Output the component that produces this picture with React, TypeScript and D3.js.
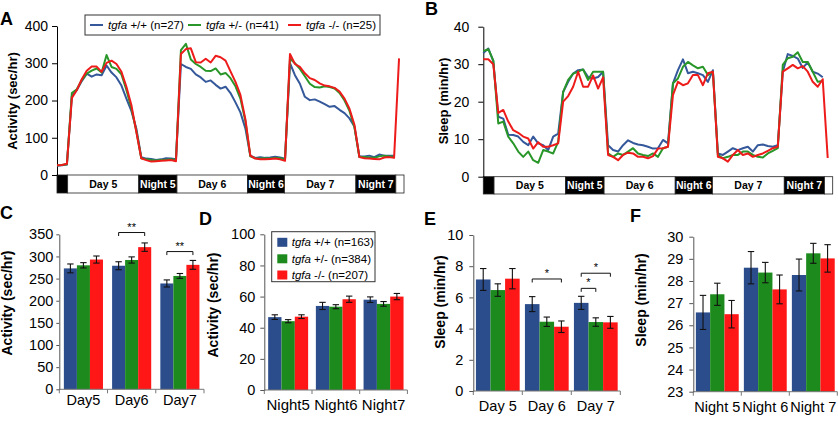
import * as d3 from "d3";
import React, { useEffect, useRef } from "react";

const W = 838;
const H = 424;
const FONT = "'Liberation Sans', Arial, Helvetica, sans-serif";

const GENOTYPES = ["+/+", "+/-", "-/-"];
const LINE_COLORS = ["#34589a", "#289628", "#ee1b1b"];
const BAR_COLORS = ["#2c4d8c", "#1c8a1c", "#ff1616"];

// ---- time course, one value per bin (bins 0..69) ----
const BINS = 70;

const ACT_WT = [
  25, 26, 28,
  212, 228, 252, 272, 264, 270, 268, 294, 275, 262, 240, 205, 172, 125, 48,
  44, 43, 40, 42, 45, 44, 42,
  298, 290, 285, 270, 262, 250, 254, 242, 232, 237, 220, 195, 168, 125, 52,
  46, 48, 46, 47, 49, 47, 44,
  300, 268, 245, 210, 201, 203, 197, 190, 183, 185, 175, 166, 152, 130, 50,
  50, 52, 48, 55, 52, 52, 52,
];
const ACT_HET = [
  26, 27, 29,
  220, 230, 255, 272, 280, 286, 275, 322, 290, 285, 270, 228, 180, 118, 45,
  42, 40, 39, 40, 41, 42, 40,
  335, 352, 310, 298, 290, 280, 279, 286, 270, 274, 260, 238, 205, 145, 50,
  45, 44, 45, 44, 46, 45, 42,
  312, 300, 285, 265, 245, 236, 235, 238, 236, 232, 220, 200, 172, 128, 48,
  48, 47, 46, 50, 52, 50, 50,
];
const ACT_MUT = [
  26, 27, 30,
  207, 228, 257, 280, 291, 291, 277, 301, 307, 298, 277, 237, 188, 116, 45,
  40, 36, 37, 38, 39, 40, 37,
  325, 338, 340, 303, 302, 312, 302, 320, 316, 307, 278, 250, 215, 150, 52,
  44, 42, 42, 43, 44, 42, 38,
  325, 298, 290, 273, 260, 255, 246, 240, 238, 234, 224, 205, 178, 135, 48,
  45, 44, 43, 42, 47, 48, 46, 313,
];

const SLEEP_WT = [
  33, 34.2, 30.8,
  16, 15.5, 11.2, 11.1, 10.7, 9.3, 8.4, 10.7, 8.9, 8.4, 7.1, 10.7, 11.5,
  22.6, 25.3, 27.5, 28.4, 28.6, 26.6, 26.2, 26.6, 28,
  8.4, 7.1, 6.7, 8.4, 9.7, 9, 8.6, 8.4, 8, 7.5, 7.6, 9.8, 8.9,
  24.9, 28.4, 31.3, 27.6, 28, 27.6, 27.1, 25.3, 28.4,
  6.2, 5.8, 6.7, 7.6, 7.1, 7.6, 8, 6.7, 8.4, 8.6, 8.2, 8, 8.4,
  28, 32.7, 32.2, 31.5, 29, 30.5, 28, 27.5, 26.5,
];
const SLEEP_HET = [
  33.5, 34, 31,
  14.2, 14.7, 10.7, 8.9, 6.7, 5.3, 6.7, 4.4, 3.7, 7.1, 6.7, 6.2, 9.3,
  22.6, 25.8, 27.5, 28, 28.6, 25.8, 28, 28, 28,
  6.2, 5.3, 6.2, 5.8, 6.7, 7.6, 6.2, 5.8, 5.5, 6.2, 5.3, 7.6, 8,
  24.9, 26.2, 29.3, 30.6, 29.7, 28.9, 29.3, 27.1, 28,
  5.8, 4.9, 5.3, 5.8, 5.8, 6.7, 6.7, 5.8, 5.3, 5.1, 6.2, 6.9, 7.6,
  29.8, 31.6, 32, 33.2, 30.6, 30.6, 28, 25.3, 25.5,
];
const SLEEP_MUT = [
  31.3, 31.3, 30,
  17, 17.8, 14.7, 12.4, 11.7, 10.7, 10.2, 7.5, 9.2, 8, 8, 8.4, 8.9,
  20, 21.5, 24, 28, 24, 24, 27, 23.5, 26.5,
  5.8, 5.3, 4.4, 5.8, 6.4, 6.2, 5.3, 5.3, 4.9, 5.5, 7.5, 7.6, 8,
  21.8, 25.3, 24.4, 24.9, 27.1, 27.1, 24.4, 27.6, 28,
  5.3, 4.9, 4, 5.8, 7.1, 5.8, 6.2, 5.3, 5.8, 6.2, 6.9, 7.6, 8,
  28, 28.9, 29.8, 28.9, 29.5, 28, 25.3, 24, 26, 5,
];

// light/dark phases, in bins
const PHASE_LABELS = ["", "Day 5", "Night 5", "Day 6", "Night 6", "Day 7", "Night 7", ""];
const PHASE_EDGES = [0, 2.15, 16.5, 24.2, 38.45, 45.9, 60.3, 68.35, 70];
const PHASE_DARK = [true, false, true, false, true, false, true, false];

const TRACE_N_A = [27, 41, 25];

// ---- daily / nightly means ----
const DAY_CATS = ["Day5", "Day6", "Day7"];
const NIGHT_CATS = ["Night5", "Night6", "Night7"];
const DAY_CATS_SP = ["Day 5", "Day 6", "Day 7"];
const NIGHT_CATS_SP = ["Night 5", "Night 6", "Night 7"];

const ACT_DAY_MEAN = [
  [273, 279, 239],
  [280, 292, 256],
  [293, 321, 281],
];
const ACT_DAY_SEM = [
  [10, 9, 8],
  [6, 7, 5.5],
  [8, 9.5, 10],
];
const ACT_NIGHT_MEAN = [
  [46.8, 54, 58],
  [44.2, 53.5, 55.3],
  [47.1, 58.3, 60],
];
const ACT_NIGHT_SEM = [
  [1.5, 2.3, 1.8],
  [1, 1.3, 1.5],
  [1.2, 2, 2],
];
const SLEEP_DAY_MEAN = [
  [7.15, 5.57, 5.65],
  [6.47, 4.44, 4.42],
  [7.2, 4.12, 4.4],
];
const SLEEP_DAY_SEM = [
  [0.7, 0.48, 0.42],
  [0.4, 0.3, 0.27],
  [0.65, 0.37, 0.38],
];
const SLEEP_NIGHT_MEAN = [
  [26.58, 28.6, 28.27],
  [27.4, 28.38, 29.25],
  [26.5, 27.62, 29.02],
];
const SLEEP_NIGHT_SEM = [
  [0.77, 0.73, 0.72],
  [0.5, 0.46, 0.45],
  [0.62, 0.65, 0.62],
];
const BAR_N = [163, 384, 207];

// significance brackets: category, first genotype, second genotype, level (data units), label
const ACT_DAY_SIG = [
  { cat: 1, a: 0, b: 2, level: 354, label: "**" },
  { cat: 2, a: 0, b: 2, level: 311, label: "**" },
];
const SLEEP_DAY_SIG = [
  { cat: 1, a: 0, b: 2, level: 7.18, label: "*" },
  { cat: 2, a: 0, b: 2, level: 7.55, label: "*" },
  { cat: 2, a: 0, b: 1, level: 6.58, label: "*" },
];

type Sel = d3.Selection<SVGSVGElement, unknown, null, undefined>;

function panelLetter(svg: Sel, letter: string, x: number, y: number) {
  svg.append("text")
    .attr("x", x).attr("y", y)
    .attr("font-family", FONT).attr("font-weight", 700).attr("font-size", 18)
    .text(letter);
}

function yTitle(svg: Sel, text: string, cx: number, cy: number, size: number) {
  svg.append("text")
    .attr("transform", `translate(${cx + size * 0.36},${cy}) rotate(-90)`)
    .attr("text-anchor", "middle")
    .attr("font-family", FONT).attr("font-weight", 700).attr("font-size", size)
    .text(text);
}

function drawTrace(svg: Sel, c: {
  left: number; right: number; top: number; bottom: number; barH: number;
  yMax: number; ticks: number[]; series: number[][]; tickPad: number; tickFont: number;
  title: string; titleX: number; titleY: number;
}) {
  const x = d3.scaleLinear().domain([0, BINS]).range([c.left, c.right]);
  const y = d3.scaleLinear().domain([0, c.yMax]).range([c.bottom, c.top]);
  const g = svg.append("g");

  const phases = PHASE_LABELS.map((label, i) => ({
    label, start: PHASE_EDGES[i], end: PHASE_EDGES[i + 1], dark: PHASE_DARK[i],
  }));

  g.selectAll("rect.phase").data(phases).join("rect")
    .attr("class", "phase")
    .attr("x", d => x(d.start)).attr("width", d => x(d.end) - x(d.start))
    .attr("y", c.bottom).attr("height", c.barH)
    .attr("fill", d => (d.dark ? "#000" : "#fff"))
    .attr("stroke", "#222").attr("stroke-width", 0.8);

  g.selectAll("text.phase").data(phases.filter(d => d.label)).join("text")
    .attr("class", "phase")
    .attr("x", d => x((d.start + d.end) / 2))
    .attr("y", c.bottom + c.barH / 2 + 4)
    .attr("text-anchor", "middle")
    .attr("font-family", FONT).attr("font-weight", 700).attr("font-size", 10.5)
    .attr("fill", d => (d.dark ? "#fff" : "#000"))
    .text(d => d.label);

  const ax = g.append("g")
    .attr("transform", `translate(${c.left},0)`)
    .call(d3.axisLeft(y).tickValues(c.ticks).tickFormat(d3.format("d"))
      .tickSize(5).tickSizeOuter(0).tickPadding(c.tickPad));
  ax.attr("font-family", FONT).attr("font-size", c.tickFont);
  ax.select(".domain").attr("stroke", "#000");
  ax.selectAll(".tick line").attr("stroke", "#000");
  ax.selectAll(".tick text").attr("fill", "#000");

  const line = d3.line<number>().x((_, i) => x(i)).y(v => y(v));
  c.series.forEach((s, k) => {
    g.append("path")
      .attr("d", line(s))
      .attr("fill", "none")
      .attr("stroke", LINE_COLORS[k])
      .attr("stroke-width", 2)
      .attr("stroke-linejoin", "round");
  });

  yTitle(svg, c.title, c.titleX, c.titleY, 13);
}

function drawBars(svg: Sel, c: {
  x0: number; x1: number; top: number; bottom: number; domain: [number, number];
  ticks: number[]; cats: string[]; mean: number[][]; sem: number[][]; pad: number;
  tickSize: number; tickPad: number; catY: number; catFont: number;
  title: string; titleX: number; titleY: number;
  sig?: { cat: number; a: number; b: number; level: number; label: string }[];
}) {
  const outer = d3.scaleBand<string>().domain(c.cats).range([c.x0, c.x1]).padding(0);
  const inner = d3.scaleBand<string>().domain(GENOTYPES)
    .range([0, outer.bandwidth()]).paddingInner(0).paddingOuter(c.pad);
  const y = d3.scaleLinear().domain(c.domain).range([c.bottom, c.top]);
  const g = svg.append("g");

  const cells = c.cats.flatMap((cat, ci) =>
    GENOTYPES.map((gt, k) => ({ cat, ci, gt, k, v: c.mean[k][ci], e: c.sem[k][ci] })));

  g.selectAll("rect.bar").data(cells).join("rect")
    .attr("class", "bar")
    .attr("x", d => (outer(d.cat) ?? 0) + (inner(d.gt) ?? 0))
    .attr("width", inner.bandwidth())
    .attr("y", d => y(d.v))
    .attr("height", d => c.bottom - y(d.v))
    .attr("fill", d => BAR_COLORS[d.k]);

  const cx = (d: { cat: string; gt: string }) =>
    (outer(d.cat) ?? 0) + (inner(d.gt) ?? 0) + inner.bandwidth() / 2;
  const err = g.append("g").attr("stroke", "#111").attr("stroke-width", 1.1);
  cells.forEach(d => {
    const xm = cx(d);
    err.append("line").attr("x1", xm).attr("x2", xm).attr("y1", y(d.v - d.e)).attr("y2", y(d.v + d.e));
    err.append("line").attr("x1", xm - 3.2).attr("x2", xm + 3.2).attr("y1", y(d.v - d.e)).attr("y2", y(d.v - d.e));
    err.append("line").attr("x1", xm - 3.2).attr("x2", xm + 3.2).attr("y1", y(d.v + d.e)).attr("y2", y(d.v + d.e));
  });

  // x axis with boundary ticks
  g.append("line")
    .attr("x1", c.x0).attr("x2", c.x1).attr("y1", c.bottom).attr("y2", c.bottom)
    .attr("stroke", "#777").attr("stroke-width", 1);
  const edges = [...c.cats.map(k => outer(k) ?? 0), c.x1];
  g.selectAll("line.xt").data(edges).join("line")
    .attr("class", "xt")
    .attr("x1", d => d).attr("x2", d => d)
    .attr("y1", c.bottom).attr("y2", c.bottom + 4)
    .attr("stroke", "#777");
  g.selectAll("text.cat").data(c.cats).join("text")
    .attr("class", "cat")
    .attr("x", d => (outer(d) ?? 0) + outer.bandwidth() / 2)
    .attr("y", c.catY)
    .attr("text-anchor", "middle")
    .attr("font-family", FONT).attr("font-size", c.catFont)
    .text(d => d);

  const ax = g.append("g")
    .attr("transform", `translate(${c.x0},0)`)
    .call(d3.axisLeft(y).tickValues(c.ticks).tickFormat(d3.format("d"))
      .tickSize(c.tickSize).tickSizeOuter(0).tickPadding(c.tickPad));
  ax.attr("font-family", FONT).attr("font-size", 14.5);
  ax.select(".domain").attr("stroke", "#555");
  ax.selectAll(".tick line").attr("stroke", "#555");
  ax.selectAll(".tick text").attr("fill", "#000");

  (c.sig ?? []).forEach(s => {
    const cat = c.cats[s.cat];
    const xa = cx({ cat, gt: GENOTYPES[s.a] });
    const xb = cx({ cat, gt: GENOTYPES[s.b] });
    const yy = y(s.level);
    g.append("path")
      .attr("d", `M${xa},${yy + 3.5}V${yy}H${xb}V${yy + 3.5}`)
      .attr("fill", "none").attr("stroke", "#111").attr("stroke-width", 1);
    g.append("text")
      .attr("x", (xa + xb) / 2).attr("y", yy - 2)
      .attr("text-anchor", "middle")
      .attr("font-family", FONT).attr("font-size", 11)
      .text(s.label);
  });

  yTitle(svg, c.title, c.titleX, c.titleY, 14);
}

function legendLabel(t: d3.Selection<SVGTextElement, unknown, null, undefined>, gt: string, n: number) {
  t.append("tspan").attr("font-style", "italic").text("tgfa");
  t.append("tspan").text(` ${gt} (n=${n})`);
}

export default function App() {
  const ref = useRef<SVGSVGElement | null>(null);

  useEffect(() => {
    const svg = d3.select(ref.current) as unknown as Sel;
    svg.selectAll("*").remove();

    // A: activity time course
    drawTrace(svg, {
      left: 57, right: 404, top: 26, bottom: 175, barH: 18,
      yMax: 400, ticks: [0, 100, 200, 300, 400],
      series: [ACT_WT, ACT_HET, ACT_MUT], tickPad: 4, tickFont: 14,
      title: "Activity (sec/hr)", titleX: 12, titleY: 101,
    });
    // B: sleep time course
    drawTrace(svg, {
      left: 483.3, right: 832.7, top: 26.7, bottom: 176.7, barH: 17.3,
      yMax: 40, ticks: [0, 10, 20, 30, 40],
      series: [SLEEP_WT, SLEEP_HET, SLEEP_MUT], tickPad: 9, tickFont: 14,
      title: "Sleep (min/hr)", titleX: 443, titleY: 101,
    });

    // legend of A
    const lg = svg.append("g");
    lg.append("rect").attr("x", 85).attr("y", 15).attr("width", 295).attr("height", 20)
      .attr("fill", "#fff").attr("stroke", "#333").attr("stroke-width", 1);
    const lgX = [90, 188, 288];
    GENOTYPES.forEach((gt, k) => {
      lg.append("line").attr("x1", lgX[k]).attr("x2", lgX[k] + 13).attr("y1", 25).attr("y2", 25)
        .attr("stroke", LINE_COLORS[k]).attr("stroke-width", 2);
      const t = lg.append("text").attr("x", lgX[k] + 18).attr("y", 29)
        .attr("font-family", FONT).attr("font-size", 11.5);
      legendLabel(t, gt, TRACE_N_A[k]);
    });

    // C-F: bar panels
    drawBars(svg, {
      x0: 59.3, x1: 204, top: 234.3, bottom: 389.3, domain: [0, 350],
      ticks: d3.range(0, 351, 50), cats: DAY_CATS, mean: ACT_DAY_MEAN, sem: ACT_DAY_SEM,
      pad: 0.35, tickSize: 3, tickPad: 3, catY: 405, catFont: 14.5,
      title: "Activity (sec/hr)", titleX: 7, titleY: 303, sig: ACT_DAY_SIG,
    });
    drawBars(svg, {
      x0: 264.3, x1: 407.4, top: 234.3, bottom: 390, domain: [0, 100],
      ticks: d3.range(0, 101, 20), cats: NIGHT_CATS, mean: ACT_NIGHT_MEAN, sem: ACT_NIGHT_SEM,
      pad: 0.29, tickSize: 4, tickPad: 5, catY: 410, catFont: 15,
      title: "Activity (sec/hr)", titleX: 213, titleY: 305,
    });
    drawBars(svg, {
      x0: 473.3, x1: 620.3, top: 235, bottom: 391, domain: [0, 10],
      ticks: d3.range(0, 11, 2), cats: DAY_CATS_SP, mean: SLEEP_DAY_MEAN, sem: SLEEP_DAY_SEM,
      pad: 0.18, tickSize: 4, tickPad: 6, catY: 411, catFont: 14.5,
      title: "Sleep (min/hr)", titleX: 440, titleY: 302, sig: SLEEP_DAY_SIG,
    });
    drawBars(svg, {
      x0: 693.3, x1: 837.3, top: 236.7, bottom: 391.7, domain: [23, 30],
      ticks: d3.range(23, 31, 1), cats: NIGHT_CATS_SP, mean: SLEEP_NIGHT_MEAN, sem: SLEEP_NIGHT_SEM,
      pad: 0.18, tickSize: 4, tickPad: 6, catY: 412, catFont: 14.5,
      title: "Sleep (min/hr)", titleX: 641, titleY: 300,
    });

    // legend of D
    const ld = svg.append("g");
    ld.append("rect").attr("x", 271.7).attr("y", 231.7).attr("width", 103.3).attr("height", 50)
      .attr("fill", "#fff").attr("stroke", "#333").attr("stroke-width", 1);
    const ldY = [242.3, 258.8, 275];
    GENOTYPES.forEach((gt, k) => {
      ld.append("rect").attr("x", 277.3).attr("y", ldY[k] - 4.5).attr("width", 10).attr("height", 9)
        .attr("fill", BAR_COLORS[k]);
      const t = ld.append("text").attr("x", 291.7).attr("y", ldY[k] + 4)
        .attr("font-family", FONT).attr("font-size", 11.5);
      legendLabel(t, gt, BAR_N[k]);
    });

    panelLetter(svg, "A", 0, 25);
    panelLetter(svg, "B", 425, 15);
    panelLetter(svg, "C", 0, 219);
    panelLetter(svg, "D", 199, 225);
    panelLetter(svg, "E", 424, 225);
    panelLetter(svg, "F", 630, 222);
  }, []);

  return (
    <svg
      ref={ref}
      width={W}
      height={H}
      style={{ position: "absolute", left: 0, top: 0, background: "#fff" }}
    />
  );
}
